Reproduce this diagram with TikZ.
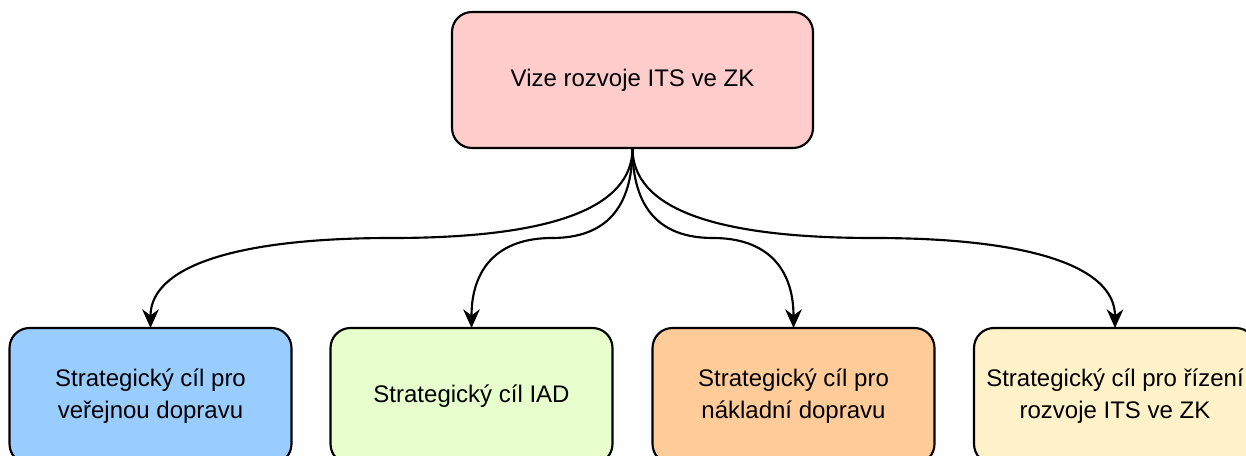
\documentclass[tikz,border=0pt]{standalone}
\usepackage{fontspec}
\setmainfont{Liberation Sans}
\usetikzlibrary{arrows.meta,calc}
\definecolor{visionfill}{HTML}{FFCCCC}
\definecolor{publicfill}{HTML}{99CCFF}
\definecolor{iadfill}{HTML}{E6FFCC}
\definecolor{freightfill}{HTML}{FFCC99}
\definecolor{mgmtfill}{HTML}{FFF2C8}
\begin{document}
\begin{tikzpicture}[x=0.75pt,y=-0.75pt,
  box/.style={draw=black, line width=1.6pt, rounded corners=15pt,
    inner sep=0pt, outer sep=0pt, minimum width=211.5pt, minimum height=102pt,
    align=center, font=\fontsize{18}{24.5}\selectfont},
  link/.style={line width=1.6pt, -{Stealth[length=14pt,width=12.5pt,inset=4.5pt]}},
  % fan-out curve: vertical start, horizontal middle, vertical end
  fan/.style={to path={let \p1=(\tikztostart), \p2=(\tikztotarget) in
    .. controls (\x1,{\y1-45pt}) and ({5/6*\x1+1/6*\x2},{(\y1+\y2)/2})
    .. ({(\x1+\x2)/2},{(\y1+\y2)/2})
    .. controls ({1/6*\x1+5/6*\x2},{(\y1+\y2)/2}) and (\x2,{\y2+45pt})
    .. (\tikztotarget)}}
]
\clip (0,0) rectangle (1246,456);

\node[box, fill=visionfill, minimum width=270.75pt] (vize) at (632.5,80) {Vize rozvoje ITS ve ZK};

\node[box, fill=publicfill]  (verejna)  at (150.5,396) {Strategický cíl pro\\veřejnou dopravu};
\node[box, fill=iadfill]     (iad)      at (471.5,396) {Strategický cíl IAD};
\node[box, fill=freightfill] (nakladni) at (793.5,396) {Strategický cíl pro\\nákladní dopravu};
\node[box, fill=mgmtfill]    (rizeni)   at (1115,396)  {Strategický cíl pro řízení\\rozvoje ITS ve ZK};

\foreach \t in {verejna,iad,nakladni,rizeni}
  \draw[link] (vize.south) to[fan] (\t.north);
\end{tikzpicture}
\end{document}
